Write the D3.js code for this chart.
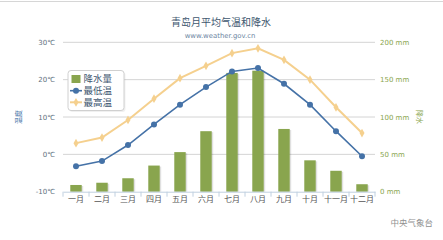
<!DOCTYPE html>
<html>
<head>
<meta charset="utf-8">
<script src="https://cdnjs.cloudflare.com/ajax/libs/d3/7.8.5/d3.min.js"></script>
<style>
  body { margin: 0; background: #fff; }
  text { font-family: "DejaVu Sans", "Noto Sans CJK SC", sans-serif; }
</style>
</head>
<body>
<div id="chart"></div>
<script>
// chart data
var months = ["一月", "二月", "三月", "四月", "五月", "六月", "七月", "八月", "九月", "十月", "十一月", "十二月"];
var precip = [9, 12, 18, 35, 53, 81, 159, 162, 84, 42, 28, 10];
var tempMin = [-3.2, -1.8, 2.5, 8.0, 13.3, 18.0, 22.2, 23.1, 18.9, 13.3, 6.2, -0.5];
var tempMax = [3.0, 4.5, 9.2, 14.9, 20.4, 23.7, 27.1, 28.4, 25.3, 20.0, 12.6, 5.7];
var tempTicks = [-10, 0, 10, 20, 30];
var precipTicks = [0, 50, 100, 150, 200];

var width = 443,
    height = 240;
// plot area edges ("top" is taken by window.top, so prefix them)
var plotLeft = 63, plotRight = 375, plotTop = 42.3, plotBottom = 191.7;

var svg = d3.select("#chart").append("svg")
    .attr("width", width)
    .attr("height", height);

// top border line
svg.append("line")
    .attr("x1", 0).attr("x2", width)
    .attr("y1", 1.5).attr("y2", 1.5)
    .attr("stroke", "#d6d6d6");

var x = d3.scaleBand().domain(months).range([plotLeft, plotRight]);
var yT = d3.scaleLinear().domain([-10, 30]).range([plotBottom, plotTop]);
var yP = d3.scaleLinear().domain([0, 200]).range([plotBottom, plotTop]);

// titles
svg.append("text")
    .attr("x", 221).attr("y", 26)
    .attr("text-anchor", "middle")
    .attr("fill", "#3E576F")
    .style("font-size", "10px")
    .text("青岛月平均气温和降水");
svg.append("text")
    .attr("x", 220).attr("y", 37.5)
    .attr("text-anchor", "middle")
    .attr("fill", "#6D869F")
    .style("font-size", "6.9px")
    .text("www.weather.gov.cn");

// grid lines
svg.append("g").selectAll("line").data(tempTicks.slice(1))
    .enter().append("line")
    .attr("x1", plotLeft).attr("x2", plotRight)
    .attr("y1", function(d) { return yT(d); })
    .attr("y2", function(d) { return yT(d); })
    .attr("stroke", "#d4d4d4");

// left axis (temperature)
var leftAxis = svg.append("g")
    .attr("transform", "translate(" + (plotLeft - 5) + ",0)")
    .call(d3.axisLeft(yT).tickValues(tempTicks).tickSize(0).tickFormat(function(d) { return d + "℃"; }));
leftAxis.select(".domain").remove();
leftAxis.selectAll("text")
    .attr("fill", "#607080")
    .style("font-size", "7px");

// right axis (precipitation)
var rightAxis = svg.append("g")
    .attr("transform", "translate(" + (plotRight + 2) + ",0)")
    .call(d3.axisRight(yP).tickValues(precipTicks).tickSize(0).tickFormat(function(d) { return d + " mm"; }));
rightAxis.select(".domain").remove();
rightAxis.selectAll("text")
    .attr("fill", "#89A54E")
    .style("font-size", "7px");

// axis titles
svg.append("text")
    .attr("transform", "translate(21,117) rotate(-90)")
    .attr("text-anchor", "middle")
    .attr("fill", "#4572A7")
    .style("font-size", "7px")
    .text("温度");
svg.append("text")
    .attr("transform", "translate(417,117) rotate(90)")
    .attr("text-anchor", "middle")
    .attr("fill", "#89A54E")
    .style("font-size", "7px")
    .text("降水");

// columns with a soft shadow
var barW = x.bandwidth() * 0.44;
var bars = svg.append("g").selectAll("g").data(precip)
    .enter().append("g");
bars.append("rect")
    .attr("x", function(d, i) { return x(months[i]) + (x.bandwidth() - barW) / 2 + 1.5; })
    .attr("y", function(d) { return yP(d) + 1; })
    .attr("width", barW)
    .attr("height", function(d) { return plotBottom - yP(d) - 1; })
    .attr("fill", "rgba(0,0,0,0.12)");
bars.append("rect")
    .attr("x", function(d, i) { return x(months[i]) + (x.bandwidth() - barW) / 2; })
    .attr("y", function(d) { return yP(d); })
    .attr("width", barW)
    .attr("height", function(d) { return plotBottom - yP(d); })
    .attr("fill", "#89A54E");

// x axis
var bottomAxis = svg.append("g")
    .attr("transform", "translate(0," + plotBottom + ")")
    .call(d3.axisBottom(x).tickSize(0).tickPadding(5));
bottomAxis.select(".domain").attr("stroke", "#C0D0E0");
bottomAxis.selectAll("text")
    .attr("fill", "#555")
    .style("font-size", "8px");
bottomAxis.selectAll("line.bound").data(months.concat([""]))
    .enter().append("line")
    .attr("class", "bound")
    .attr("x1", function(d, i) { return plotLeft + i * x.bandwidth(); })
    .attr("x2", function(d, i) { return plotLeft + i * x.bandwidth(); })
    .attr("y1", 0).attr("y2", 5)
    .attr("stroke", "#C0D0E0");

// temperature lines
var cx = function(d, i) { return x(months[i]) + x.bandwidth() / 2; };
var tempLine = d3.line().x(cx).y(function(d) { return yT(d); });

svg.append("path")
    .attr("d", tempLine(tempMax))
    .attr("fill", "none")
    .attr("stroke", "#F5D08E")
    .attr("stroke-width", 2);
svg.append("g").selectAll("path").data(tempMax)
    .enter().append("path")
    .attr("transform", function(d, i) { return "translate(" + cx(d, i) + "," + yT(d) + ")"; })
    .attr("d", d3.symbol().type(d3.symbolDiamond).size(22))
    .attr("fill", "#F5D08E");

svg.append("path")
    .attr("d", tempLine(tempMin))
    .attr("fill", "none")
    .attr("stroke", "#4572A7")
    .attr("stroke-width", 1.6);
svg.append("g").selectAll("circle").data(tempMin)
    .enter().append("circle")
    .attr("cx", cx)
    .attr("cy", function(d) { return yT(d); })
    .attr("r", 3)
    .attr("fill", "#4572A7");

// legend
var legend = svg.append("g");
legend.append("rect")
    .attr("x", 69.5).attr("y", 72).attr("width", 56).attr("height", 40)
    .attr("rx", 3)
    .attr("fill", "rgba(0,0,0,0.06)");
legend.append("rect")
    .attr("x", 68).attr("y", 70.5).attr("width", 56).attr("height", 40)
    .attr("rx", 3)
    .attr("fill", "#fff")
    .attr("stroke", "#d0d0d0");
var items = ["降水量", "最低温", "最高温"];
var rowY = [79, 90.7, 102.3];
legend.append("rect")
    .attr("x", 71.5).attr("y", rowY[0] - 4).attr("width", 9).attr("height", 8)
    .attr("fill", "#89A54E");
legend.append("line")
    .attr("x1", 70).attr("x2", 82).attr("y1", rowY[1]).attr("y2", rowY[1])
    .attr("stroke", "#4572A7").attr("stroke-width", 1.6);
legend.append("circle")
    .attr("cx", 76).attr("cy", rowY[1]).attr("r", 3)
    .attr("fill", "#4572A7");
legend.append("line")
    .attr("x1", 70).attr("x2", 82).attr("y1", rowY[2]).attr("y2", rowY[2])
    .attr("stroke", "#F5D08E").attr("stroke-width", 2);
legend.append("path")
    .attr("transform", "translate(76," + rowY[2] + ")")
    .attr("d", d3.symbol().type(d3.symbolDiamond).size(22))
    .attr("fill", "#F5D08E");
legend.selectAll("text.item").data(items)
    .enter().append("text")
    .attr("class", "item")
    .attr("x", 83.5)
    .attr("y", function(d, i) { return rowY[i] + 3.4; })
    .attr("fill", "#3E576F")
    .style("font-size", "9.5px")
    .text(function(d) { return d; });

// credits
svg.append("text")
    .attr("x", 433).attr("y", 225.5)
    .attr("text-anchor", "end")
    .attr("fill", "#909090")
    .style("font-size", "8.5px")
    .text("中央气象台");
</script>
</body>
</html>
